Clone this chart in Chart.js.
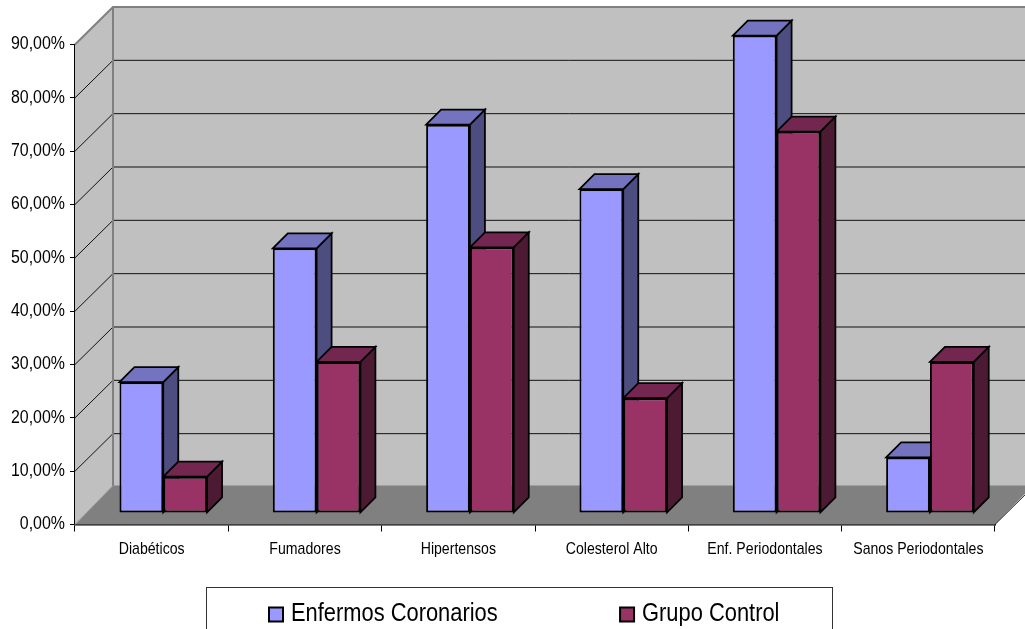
<!DOCTYPE html>
<html>
<head>
<meta charset="utf-8">
<style>html,body{margin:0;padding:0;background:#fff;overflow:hidden}canvas{display:block}</style>
<script src="https://cdn.jsdelivr.net/npm/chart.js@4"></script>
</head>
<body>
<canvas id="c" width="1025" height="629"></canvas>
<script>
const categories = ['Diabéticos','Fumadores','Hipertensos','Colesterol Alto','Enf. Periodontales','Sanos Periodontales'];
const enfermosCoronarios = [24.5,49.6,72.8,60.7,89.5,10.4];
const grupoControl = [6.8,28.3,49.8,21.5,71.5,28.3];
const seriesNames = ['Enfermos Coronarios','Grupo Control'];

const WALL_DX = 38, WALL_DY = 37.5;   // how far the back wall sits behind the axis plane
const BAR_INSET = 11.6, BAR_DEPTH = 15;
const FONT = '"Liberation Sans",Arial,sans-serif';
const TICK_SIZE = 18, CATEGORY_SIZE = 17, LEGEND_SIZE = 25;

// The chart's typeface is a condensed Arial; no narrow face is installed, so
// fillText's maxWidth argument squeezes each string to the wanted width.
const canvas = document.getElementById('c');
const rawCtx = canvas.getContext('2d');
const squeeze = { [TICK_SIZE]: 0.885, [CATEGORY_SIZE]: 0.83, [LEGEND_SIZE]: 0.875 };
const nudge = { [LEGEND_SIZE]: -4.5 };
const fillTextPlain = rawCtx.fillText.bind(rawCtx);
rawCtx.fillText = (text, x, y) => {
  const size = parseFloat((rawCtx.font.match(/([\d.]+)px/) || [])[1]);
  const w = rawCtx.measureText(text).width * (squeeze[size] || 1);
  fillTextPlain(text, x + (nudge[size] || 0), y, w);
};

function poly(ctx, pts, fill, stroke, lw) {
  ctx.beginPath();
  pts.forEach((p, i) => i ? ctx.lineTo(p[0], p[1]) : ctx.moveTo(p[0], p[1]));
  ctx.closePath();
  if (fill) { ctx.fillStyle = fill; ctx.fill(); }
  if (stroke) { ctx.strokeStyle = stroke; ctx.lineWidth = lw; ctx.stroke(); }
}

// Walls, floor and gridlines of the 3D box, plus the legend frame.
const room = {
  id: 'room',
  afterLayout(chart) {
    chart.legend.left = 264;
    chart.legend.top += 8;
  },
  beforeDatasetsDraw(chart) {
    const { ctx, chartArea: a, scales: { y } } = chart;
    const bx = a.left + WALL_DX, by = a.bottom - WALL_DY, ty = a.top - WALL_DY;
    ctx.save();
    poly(ctx, [[bx, ty], [a.right + WALL_DX, ty], [a.right + WALL_DX, by], [bx, by]], '#c0c0c0');
    poly(ctx, [[a.left, a.top], [bx, ty], [bx, by], [a.left, a.bottom]], '#c0c0c0');
    poly(ctx, [[a.left, a.bottom], [bx, by - 1.5], [a.right + WALL_DX, by - 1.5], [a.right, a.bottom]], '#808080');
    y.ticks.forEach(t => {
      if (t.value === 0 || t.value === 90) return;
      const py = y.getPixelForValue(t.value);
      ctx.strokeStyle = '#111'; ctx.lineWidth = 1;
      ctx.beginPath();
      ctx.moveTo(a.left, py); ctx.lineTo(bx, py - WALL_DY); ctx.lineTo(a.right + WALL_DX, py - WALL_DY);
      ctx.stroke();
    });
    ctx.strokeStyle = '#808080'; ctx.lineWidth = 2;
    ctx.beginPath();
    ctx.moveTo(a.left, a.top); ctx.lineTo(bx, ty); ctx.lineTo(a.right + WALL_DX, ty);
    ctx.moveTo(bx, ty); ctx.lineTo(bx, by - 1);
    ctx.stroke();
    ctx.strokeStyle = '#a0a0a0'; ctx.lineWidth = 1;
    ctx.beginPath();
    ctx.moveTo(a.left, a.bottom); ctx.lineTo(bx, by - 1.5);
    ctx.stroke();
    ctx.strokeStyle = '#222';
    ctx.beginPath();
    ctx.moveTo(a.right, a.bottom); ctx.lineTo(a.right + WALL_DX, by);
    ctx.stroke();
    ctx.strokeStyle = '#333'; ctx.lineWidth = 1;
    ctx.strokeRect(206.5, 587.5, 626, 70);

    // Side and top faces of each bar; the fronts are the library's own bars.
    ctx.translate(BAR_INSET, -BAR_INSET);
    const sides = ['#4d4d80', '#4d1a33'], tops = ['#7373bf', '#732650'];
    categories.forEach((_, i) => {
      [0, 1].forEach(d => {
        const b = chart.getDatasetMeta(d).data[i];
        const l = b.x - b.width / 2, r = b.x + b.width / 2;
        poly(ctx, [[r, b.y], [r + BAR_DEPTH, b.y - BAR_DEPTH], [r + BAR_DEPTH, b.base - BAR_DEPTH], [r, b.base]], sides[d], '#000', 1.75);
        poly(ctx, [[l, b.y], [l + BAR_DEPTH, b.y - BAR_DEPTH], [r + BAR_DEPTH, b.y - BAR_DEPTH], [r, b.y]], tops[d], '#000', 1.75);
      });
    });
    // left translated for the dataset fronts, undone in afterDatasetsDraw
  },
  afterDatasetsDraw(chart) {
    chart.ctx.restore();
  }
};

new Chart(canvas, {
  type: 'bar',
  data: {
    labels: categories,
    datasets: [
      { label: seriesNames[0], data: enfermosCoronarios, backgroundColor: '#9999ff', borderColor: '#000', borderWidth: 2, borderSkipped: false, clip: false },
      { label: seriesNames[1], data: grupoControl, backgroundColor: '#993366', borderColor: '#000', borderWidth: 2, borderSkipped: false, clip: false }
    ]
  },
  plugins: [room],
  options: {
    responsive: false,
    animation: false,
    events: [],
    layout: { padding: { top: 44.5, right: 30, left: 0, bottom: 0 } },
    datasets: { bar: { categoryPercentage: 2 / 3.5, barPercentage: 1 } },
    scales: {
      x: {
        afterFit(s) { s.height = 64.5; },
        grid: { drawOnChartArea: false, color: '#000', tickLength: 7, lineWidth: 1 },
        border: { color: '#000', width: 1.5 },
        ticks: { color: '#000', font: { family: FONT, size: CATEGORY_SIZE }, padding: 8, maxRotation: 0, autoSkip: false }
      },
      y: {
        min: 0, max: 90,
        afterFit(s) { s.width = 75; },
        grid: { drawOnChartArea: false, color: '#000', tickLength: 5, lineWidth: 1 },
        border: { color: '#000', width: 1.5 },
        ticks: {
          stepSize: 10, color: '#000', padding: 5,
          font: { family: FONT, size: TICK_SIZE },
          callback: v => v.toFixed(2).replace('.', ',') + '%'
        }
      }
    },
    plugins: {
      tooltip: { enabled: false },
      legend: {
        position: 'bottom',
        align: 'start',
        labels: {
          boxWidth: 14, boxHeight: 14, padding: 5, color: '#000',
          font: { family: FONT, size: LEGEND_SIZE },
          // trailing spaces hold the second entry away from the first
          generateLabels(chart) {
            const items = Chart.defaults.plugins.legend.labels.generateLabels(chart);
            items[0].text += ' '.repeat(12);
            return items;
          }
        }
      }
    }
  }
});
</script>
</body>
</html>
